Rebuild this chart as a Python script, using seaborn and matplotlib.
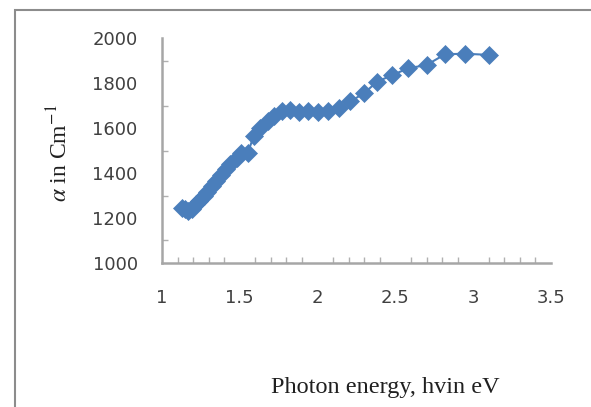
import matplotlib
matplotlib.use("Agg")
import matplotlib.pyplot as plt
import seaborn as sns
from matplotlib.patches import Rectangle
from matplotlib.ticker import MultipleLocator

# photon energy (eV) and absorption coefficient values
energy = [3.10, 2.95, 2.82, 2.70, 2.58, 2.48, 2.38, 2.30, 2.21, 2.14,
          2.07, 2.00, 1.94, 1.88, 1.82, 1.77, 1.72, 1.68, 1.63, 1.59,
          1.55, 1.51, 1.48, 1.44, 1.41, 1.38, 1.35, 1.32, 1.29, 1.27,
          1.24, 1.22, 1.19, 1.17, 1.15, 1.13]
alpha = [1925, 1930, 1928, 1880, 1865, 1835, 1805, 1755, 1718, 1690,
         1676, 1672, 1676, 1672, 1678, 1675, 1655, 1632, 1602, 1565,
         1487, 1490, 1468, 1442, 1418, 1392, 1366, 1342, 1317, 1300,
         1277, 1260, 1240, 1230, 1238, 1243]

x_ticks = [1, 1.5, 2, 2.5, 3, 3.5]
y_ticks = [1000, 1200, 1400, 1600, 1800, 2000]

sns.set_style("white")
plt.rcParams["font.family"] = ["DejaVu Sans"]
plt.rcParams["mathtext.fontset"] = "stix"

fig = plt.figure(figsize=(5.91, 4.07), dpi=100)
ax = fig.add_axes([162 / 591, 1 - 263 / 407, (551 - 162) / 591, (263 - 38) / 407])

blue = "#4a7ebb"
sns.lineplot(x=energy, y=alpha, ax=ax, color=blue, lw=1.5, marker="D",
             markersize=9, markeredgecolor=blue, markeredgewidth=0.5)

ax.set_xlim(1, 3.5)
ax.set_ylim(1000, 2000)
ax.set_xticks(x_ticks)
ax.set_xticklabels([f"{t:g}" for t in x_ticks])
ax.set_yticks(y_ticks)
ax.xaxis.set_minor_locator(MultipleLocator(0.1))
ax.yaxis.set_minor_locator(MultipleLocator(100))

for side in ["top", "right"]:
    ax.spines[side].set_visible(False)
for side in ["left", "bottom"]:
    ax.spines[side].set_color("#a6a6a6")
    ax.spines[side].set_linewidth(1.8)

ax.tick_params(which="major", direction="inout", length=9, width=1.2,
               color="#a6a6a6", labelsize=13, labelcolor="#404040")
ax.tick_params(axis="x", which="major", pad=14)
ax.tick_params(axis="y", which="major", pad=13)
ax.tick_params(which="minor", direction="in", length=4, width=1,
               color="#b0b0b0", left=True, bottom=True)

fig.text(385 / 591, 1 - 388 / 407, "Photon energy, hvin eV",
         family="Liberation Serif", fontsize=17.5, ha="center", va="center",
         color="#202020")
fig.text(60 / 591, 1 - 153 / 407, r"$\alpha$ in Cm$^{-1}$",
         family="Liberation Serif", fontsize=17, rotation=90,
         ha="center", va="center", color="#202020")

# chart area border (only top and left are visible in the crop)
fig.add_artist(Rectangle((15 / 591, -0.2), 1.2, 1.2 - 10 / 407,
                         transform=fig.transFigure, fill=False,
                         edgecolor="#8c8c8c", lw=1.5))

fig.savefig("out.png", dpi=100)
